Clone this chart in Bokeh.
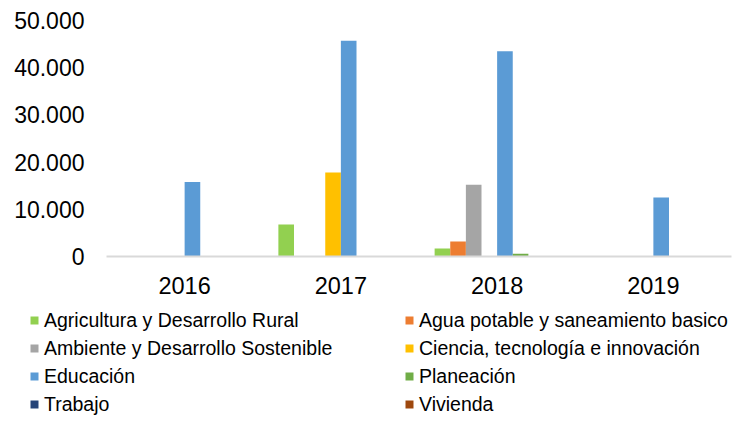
from bokeh.plotting import figure
from bokeh.layouts import column
from bokeh.models import (ColumnDataSource, FactorRange, Range1d, Legend, LegendItem,
                          FixedTicker, CustomJSTickFormatter)
from bokeh.transform import dodge
from bokeh.embed import file_html
from bokeh.resources import INLINE

years = ["2016", "2017", "2018", "2019"]
series_names = [
    "Agricultura y Desarrollo Rural",
    "Agua potable y saneamiento basico",
    "Ambiente y Desarrollo Sostenible",
    "Ciencia, tecnología e innovación",
    "Educación",
    "Planeación",
    "Trabajo",
    "Vivienda",
]
agricultura = [0, 6800, 1700, 0]
agua = [0, 0, 3200, 0]
ambiente = [0, 0, 15200, 0]
ciencia = [0, 17800, 0, 0]
educacion = [15800, 45700, 43500, 12500]
planeacion = [0, 0, 600, 0]
trabajo = [0, 0, 0, 0]
vivienda = [0, 0, 0, 0]
y_ticks = [0, 10000, 20000, 30000, 40000, 50000]

colors = ["#92D050", "#ED7D31", "#A5A5A5", "#FFC000",
          "#5B9BD5", "#70AD47", "#264478", "#9E480E"]
all_values = [agricultura, agua, ambiente, ciencia, educacion, planeacion, trabajo, vivienda]
keys = ["s%d" % i for i in range(len(series_names))]

data = {"year": years}
for k, v in zip(keys, all_values):
    data[k] = v
src = ColumnDataSource(data)

W = 733
H1 = 305
H2 = 110
p = figure(width=W, height=H1, output_backend="svg", toolbar_location=None,
           x_range=FactorRange(*years), y_range=Range1d(0, 50000),
           min_border_left=106, min_border_right=2, min_border_top=20,
           min_border_bottom=49)

bw = 0.1
for i, (k, c) in enumerate(zip(keys, colors)):
    off = (i - 3.5) * bw
    p.vbar(x=dodge("year", off, range=p.x_range), top=k, width=bw, source=src,
           fill_color=c, line_color=None)

p.outline_line_color = None
p.xgrid.grid_line_color = None
p.ygrid.grid_line_color = None

# x axis
p.xaxis.axis_line_color = "#D9D9D9"
p.xaxis.axis_line_width = 2
p.xaxis.major_tick_line_color = None
p.xaxis.minor_tick_line_color = None
p.xaxis.major_tick_out = 0
p.xaxis.major_tick_in = 0
p.xaxis.major_label_text_font = "Liberation Sans"
p.xaxis.major_label_text_font_size = "23.5px"
p.xaxis.major_label_text_color = "#000000"
p.xaxis.major_label_standoff = 20

# y axis
p.yaxis.axis_line_color = None
p.yaxis.major_tick_line_color = None
p.yaxis.minor_tick_line_color = None
p.yaxis.major_tick_out = 0
p.yaxis.major_tick_in = 0
p.yaxis.ticker = FixedTicker(ticks=y_ticks)
p.yaxis.formatter = CustomJSTickFormatter(code="""
    var s = Math.round(tick).toString();
    return s.replace(/\\B(?=(\\d{3})+(?!\\d))/g, ".");
""")
p.yaxis.major_label_text_font = "Liberation Sans"
p.yaxis.major_label_text_font_size = "23px"
p.yaxis.major_label_text_color = "#000000"
p.yaxis.major_label_standoff = 22

# legend figure (its bars use the same data, but lie outside its view)
p2 = figure(width=W, height=H2, output_backend="svg", toolbar_location=None,
            x_axis_location=None, y_axis_location=None,
            x_range=FactorRange(*years), y_range=Range1d(1e9, 2e9),
            min_border_left=0, min_border_right=0, min_border_top=0, min_border_bottom=0)
p2.outline_line_color = None
p2.xgrid.grid_line_color = None
p2.ygrid.grid_line_color = None
for fig in (p, p2):
    if "frame_align" in fig.properties():
        fig.frame_align = False

leg_renderers = []
for i, (k, c) in enumerate(zip(keys, colors)):
    r = p2.vbar(x=dodge("year", (i - 3.5) * bw, range=p2.x_range), top=k, width=bw,
                source=src, fill_color=c, line_color=None)
    leg_renderers.append(r)


def make_legend(idxs, x):
    items = [LegendItem(label=series_names[i], renderers=[leg_renderers[i]]) for i in idxs]
    return Legend(items=items, location=(x, -3), orientation="vertical",
                  glyph_width=10, glyph_height=10, label_height=28, spacing=0,
                  label_standoff=5, margin=0, padding=0,
                  border_line_color=None, background_fill_alpha=0,
                  label_text_font="Liberation Sans", label_text_font_size="19.5px",
                  label_text_color="#000000")


p2.add_layout(make_legend([0, 2, 4, 6], 29), "center")
p2.add_layout(make_legend([1, 3, 5, 7], 404), "center")

layout = column(p, p2, spacing=0)
open("out.html", "w").write(file_html(layout, INLINE))
